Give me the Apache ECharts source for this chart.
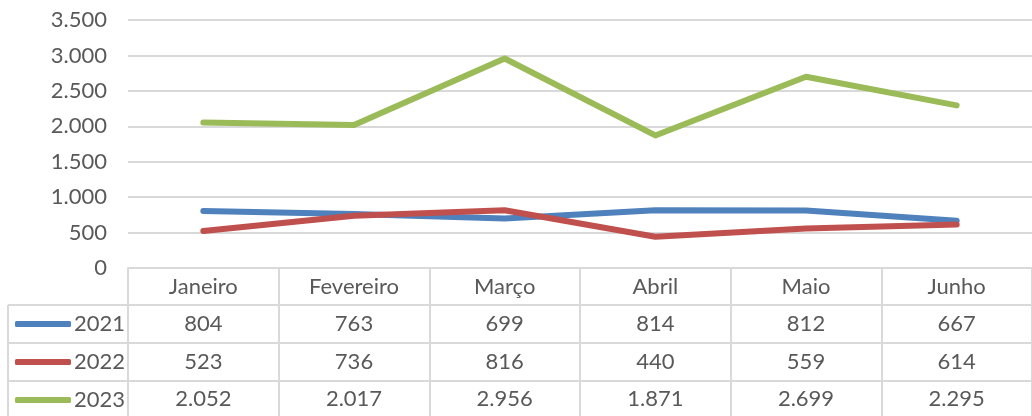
<!DOCTYPE html>
<html><head><meta charset="utf-8">
<script src="https://cdn.jsdelivr.net/npm/echarts@6/dist/echarts.min.js"></script>
<style>html,body{margin:0;padding:0;background:#fff}#c{width:1032px;height:416px}</style>
</head><body><div id="c"></div>
<script>
const months = ['Janeiro','Fevereiro','Março','Abril','Maio','Junho'];
const seriesNames = ['2021','2022','2023'];
const v2021 = [804, 763, 699, 814, 812, 667];
const v2022 = [523, 736, 816, 440, 559, 614];
const v2023 = [2052, 2017, 2956, 1871, 2699, 2295];
const yTicks = [0, 500, 1000, 1500, 2000, 2500, 3000, 3500];
const colors = ['#4f81bd', '#c0504d', '#9bbb59'];

const FONT = 'Lato';
const FS = 22;
const TXT = '#595959';
const BORDER = '#d9d9d9';
function fmt(n){ return String(n).replace(/\B(?=(\d{3})+(?!\d))/g, '.'); }

const allVals = [v2021, v2022, v2023];
const rowMargins = [45, 83, 120];
const rowTops = [305, 343, 381];

const xAxes = [{
  type: 'category', data: months, boundaryGap: true,
  axisLine: {show: true, lineStyle: {color: BORDER, width: 2}},
  axisTick: {show: true, interval: 0, length: 150, lineStyle: {color: BORDER, width: 2}},
  axisLabel: {interval: 0, margin: 8, color: TXT, fontFamily: FONT, fontSize: FS},
  splitLine: {show: false}
}];
allVals.forEach((vals, i) => {
  xAxes.push({
    type: 'category', data: vals.map(fmt), boundaryGap: true, position: 'bottom',
    axisLine: {show: false}, axisTick: {show: false},
    axisLabel: {interval: 0, margin: rowMargins[i], color: TXT, fontFamily: FONT, fontSize: FS},
    splitLine: {show: false}
  });
});

const hLines = rowTops.map(y => ({
  type: 'line', silent: true, z: 0,
  shape: {x1: 8, y1: y, x2: 1032, y2: y},
  style: {stroke: BORDER, lineWidth: 2}
}));
hLines.push({type: 'line', silent: true, z: 0, shape: {x1: 8, y1: 305, x2: 8, y2: 416}, style: {stroke: BORDER, lineWidth: 2}});

const legends = seriesNames.map((n, i) => ({
  orient: 'vertical', left: 15, top: rowTops[i], padding: 0, itemGap: 0,
  itemWidth: 56, itemHeight: 6, icon: 'roundRect',
  textStyle: {color: TXT, fontFamily: FONT, fontSize: FS, lineHeight: 38, padding: [0,0,0,-2]},
  data: [n]
}));

const chart = echarts.init(document.getElementById('c'), null, {renderer: 'canvas'});
chart.setOption({
  animation: false,
  backgroundColor: '#fff',
  grid: {left: 128, right: -8, top: 20, bottom: 148, containLabel: false},
  xAxis: xAxes,
  yAxis: {
    type: 'value', min: 0, max: 3500, interval: 500,
    axisLine: {show: false}, axisTick: {show: false},
    axisLabel: {margin: 21, color: TXT, fontFamily: FONT, fontSize: FS, formatter: v => fmt(v)},
    splitLine: {lineStyle: {color: BORDER, width: 2}}
  },
  legend: legends,
  graphic: hLines,
  series: seriesNames.map((n, i) => ({
    name: n, type: 'line', data: allVals[i], xAxisIndex: 0,
    symbol: 'none', color: colors[i],
    lineStyle: {width: 6, color: colors[i], cap: 'round', join: 'round'}
  }))
});
</script></body></html>
